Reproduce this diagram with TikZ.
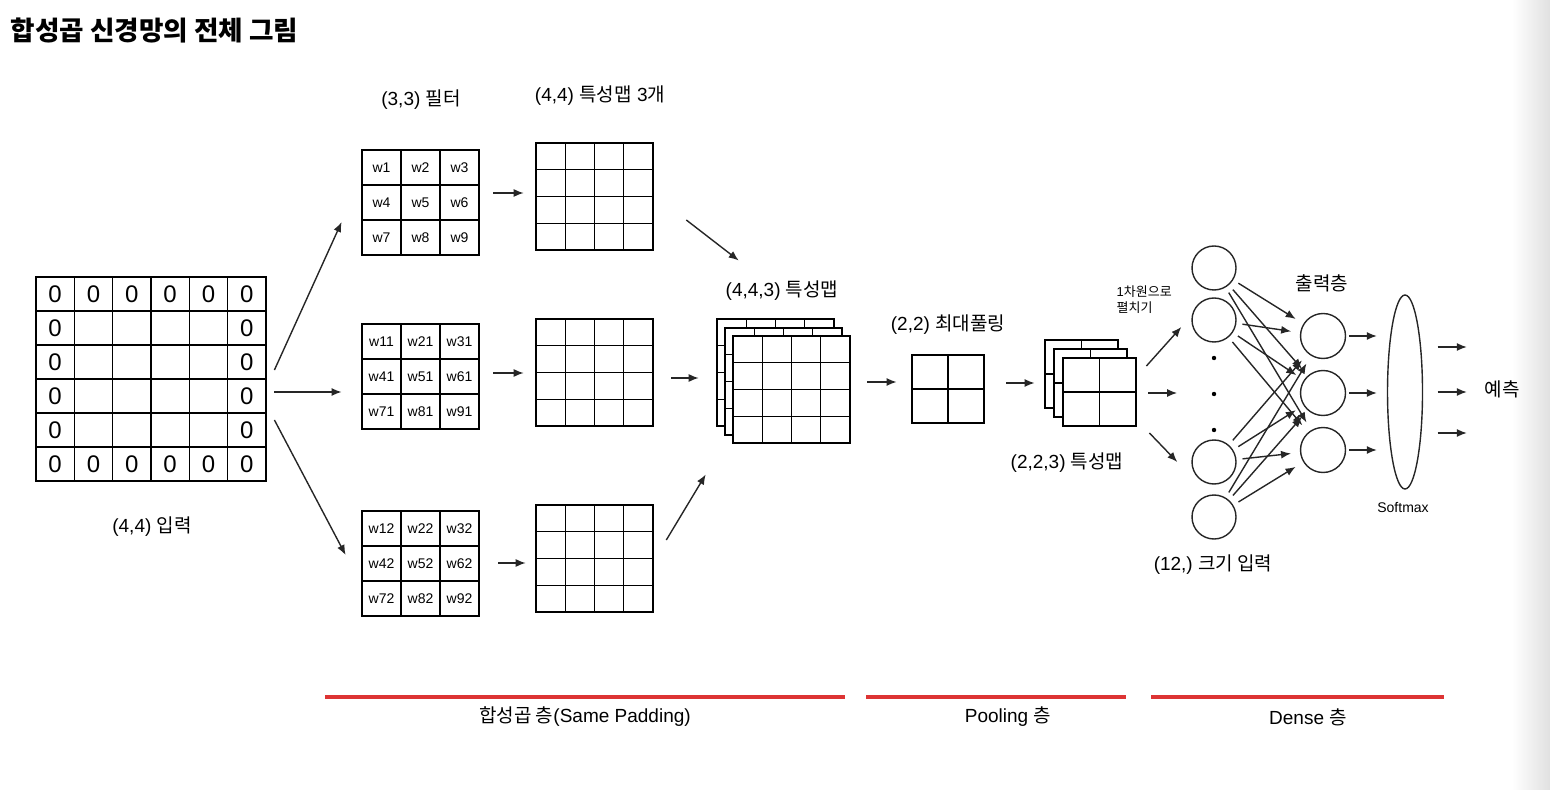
\documentclass[tikz,border=0pt]{standalone}
\usepackage{fontspec}
\setmainfont{Liberation Sans}
\newfontfamily\kr{Noto Sans CJK KR}
\usetikzlibrary{matrix,arrows.meta,shapes.geometric}

\definecolor{barred}{RGB}{221,52,52}

\tikzset{
  lbl/.style={inner sep=0pt, font=\fontsize{9.5}{11}\selectfont},
  smalllbl/.style={inner sep=0pt, font=\fontsize{6.5}{8}\selectfont, align=left},
  cellgrid/.style 2 args={matrix of nodes, nodes in empty cells, inner sep=0pt,
    column sep=-\pgflinewidth, row sep=-\pgflinewidth,
    nodes={draw, fill=white, inner sep=0pt, anchor=center,
      minimum width=#1, minimum height=#2}},
  neuron/.style={circle, draw, minimum size=22pt, inner sep=0pt},
  neurondot/.style={circle, fill, inner sep=0pt, minimum size=2.2pt},
  redbar/.style={draw=barred, line width=2pt},
}

\begin{document}
\begin{tikzpicture}[x=0.5pt, y=-0.5pt, line width=0.7pt, draw=black!85,
  >={Latex[length=5pt,width=4pt]}]
  \useasboundingbox (0,0) rectangle (1550,790);
  \shade[left color=white, right color=black!12] (1512,0) rectangle (1550,790);

  \node[anchor=west, inner sep=0pt, font=\kr\fontsize{13.3}{16}\selectfont\bfseries] (title) at (10,30) {합성곱 신경망의 전체 그림};

  % input with zero padding
  \matrix[cellgrid={19.17pt}{17pt}, nodes={font=\fontsize{12}{13}\selectfont}] (inp) at (151,379) {
    0 & 0 & 0 & 0 & 0 & 0\\
    0 &   &   &   &   & 0\\
    0 &   &   &   &   & 0\\
    0 &   &   &   &   & 0\\
    0 &   &   &   &   & 0\\
    0 & 0 & 0 & 0 & 0 & 0\\};
  \node[lbl] (inplbl) at (152,527) {(4,4) {\kr 입력}};

  % filters
  \matrix[cellgrid={19.5pt}{17.5pt}, nodes={font=\fontsize{7}{8}\selectfont}] (f1) at (420.5,202.5) {
    w1 & w2 & w3\\ w4 & w5 & w6\\ w7 & w8 & w9\\};
  \matrix[cellgrid={19.5pt}{17.5pt}, nodes={font=\fontsize{7}{8}\selectfont}] (f2) at (420.5,376.5) {
    w11 & w21 & w31\\ w41 & w51 & w61\\ w71 & w81 & w91\\};
  \matrix[cellgrid={19.5pt}{17.5pt}, nodes={font=\fontsize{7}{8}\selectfont}] (f3) at (420.5,563.5) {
    w12 & w22 & w32\\ w42 & w52 & w62\\ w72 & w82 & w92\\};
  \node[lbl] (flbl) at (421,100) {(3,3) {\kr 필터}};

  % feature maps
  \matrix[cellgrid={14.6pt}{13.4pt}] (fm1) at (594.5,196.5) {&&&\\&&&\\&&&\\&&&\\};
  \matrix[cellgrid={14.6pt}{13.4pt}] (fm2) at (594.5,372.5) {&&&\\&&&\\&&&\\&&&\\};
  \matrix[cellgrid={14.6pt}{13.4pt}] (fm3) at (594.5,558.5) {&&&\\&&&\\&&&\\&&&\\};
  \node[lbl] (fmlbl) at (600,96) {(4,4) {\kr 특성맵} 3{\kr 개}};

  % stacked (4,4,3)
  \matrix[cellgrid={14.6pt}{13.4pt}] (s1) at (775.5,372.5) {&&&\\&&&\\&&&\\&&&\\};
  \matrix[cellgrid={14.6pt}{13.4pt}] (s2) at (783.5,381.5) {&&&\\&&&\\&&&\\&&&\\};
  \matrix[cellgrid={14.6pt}{13.4pt}] (s3) at (791.5,389.5) {&&&\\&&&\\&&&\\&&&\\};
  \node[lbl] (slbl) at (782,291) {(4,4,3) {\kr 특성맵}};

  % max pooling
  \matrix[cellgrid={18pt}{17pt}] (pool) at (948,389) {&\\&\\};
  \node[lbl] (poollbl) at (948,325) {(2,2) {\kr 최대풀링}};

  % stacked (2,2,3)
  \matrix[cellgrid={18.25pt}{17pt}] (t1) at (1081.5,374) {&\\&\\};
  \matrix[cellgrid={18.25pt}{17pt}] (t2) at (1090.5,383) {&\\&\\};
  \matrix[cellgrid={18.25pt}{17pt}] (t3) at (1099.5,392) {&\\&\\};
  \node[lbl] (tlbl) at (1067,463) {(2,2,3) {\kr 특성맵}};
  \node[smalllbl, anchor=west] (flat) at (1116,300) {1{\kr 차원으로}\\{\kr 펼치기}};

  % dense
  \node[neuron] (n1) at (1214,268) {};
  \node[neuron] (n2) at (1214,320) {};
  \node[neurondot] (d1) at (1214,358) {};
  \node[neurondot] (d2) at (1214,394) {};
  \node[neurondot] (d3) at (1214,430) {};
  \node[neuron] (n3) at (1214,462) {};
  \node[neuron] (n4) at (1214,517) {};
  \node[lbl] (nlbl) at (1213,565) {(12,) {\kr 크기 입력}};

  \node[neuron, minimum size=22.5pt] (o1) at (1323,336) {};
  \node[neuron, minimum size=22.5pt] (o2) at (1323,393) {};
  \node[neuron, minimum size=22.5pt] (o3) at (1323,450) {};
  \node[lbl, font=\kr\fontsize{9.5}{11}\selectfont] (olbl) at (1322,283) {출력층};

  \node[ellipse, draw, inner sep=0pt, minimum width=17.5pt, minimum height=97pt] (sm) at (1405,392) {};
  \node[smalllbl, font=\fontsize{7}{8}\selectfont] (smlbl) at (1403,508) {Softmax};
  \node[lbl, font=\kr\fontsize{9.5}{11}\selectfont] (pred) at (1502,389) {예측};

  % arrows
  \draw[->] ([shift={(7,-9)}]inp.east) -- ([shift={(-19,19.5)}]f1.west);
  \draw[->] ([shift={(7,13)}]inp.east) -- ([shift={(-19,15.5)}]f2.west);
  \draw[->] ([shift={(7,41)}]inp.east) -- ([shift={(-15,-8.5)}]f3.west);

  \draw[->] ([shift={(13,-9.5)}]f1.east) -- ([shift={(-11,-3.5)}]fm1.west);
  \draw[->] ([shift={(13,-3.5)}]f2.east) -- ([shift={(-11,0.5)}]fm2.west);
  \draw[->] ([shift={(18,-0.5)}]f3.east) -- ([shift={(-9,4.5)}]fm3.west);

  \draw[->] ([shift={(32,23.5)}]fm1.east) -- ([shift={(23,-57)}]s1.north west);
  \draw[->] ([shift={(17,5.5)}]fm2.east) -- ([shift={(-17,5.5)}]s1.west);
  \draw[->] ([shift={(12,-18.5)}]fm3.east) -- ([shift={(-10,47)}]s1.south west);

  \draw[->] ([shift={(16,-7.5)}]s3.east) -- ([shift={(-14,-7)}]pool.west);
  \draw[->] ([shift={(21,-6)}]pool.east) -- ([shift={(-9,9)}]t1.west);

  \draw[->] ([shift={(9,-26)}]t3.east) -- ([shift={(-10,7)}]n2.west);
  \draw[->] ([shift={(11,1)}]t3.east) -- ([shift={(-34,-1)}]d2.west);
  \draw[->] ([shift={(12,41)}]t3.east) -- ([shift={(-14,0)}]n3.west);

  \foreach \i in {1,...,4}
    \foreach \j in {1,2,3}
      \draw[->, shorten <=3pt, shorten >=4.5pt] (n\i) -- (o\j);

  \foreach \j in {1,2,3}
    \draw[->, shorten >=5pt] ([xshift=1.5pt]o\j.east) -- (sm.west |- o\j.east);

  \foreach \dy in {-45,0,41}
    \draw[->] ([shift={(14.5,\dy)}]sm.east) -- ([shift={(-17,\dy+3)}]pred.west);

  % layer bars
  \draw[redbar] (325,697) -- (845,697);
  \draw[redbar] (866,697) -- (1126,697);
  \draw[redbar] (1151,697) -- (1444,697);
  \node[lbl] (convlbl) at (585,717) {{\kr 합성곱 층}(Same Padding)};
  \node[lbl] (poolbar) at (1008,717) {Pooling {\kr 층}};
  \node[lbl] (denselbl) at (1308,717) {Dense {\kr 층}};
\end{tikzpicture}
\end{document}
